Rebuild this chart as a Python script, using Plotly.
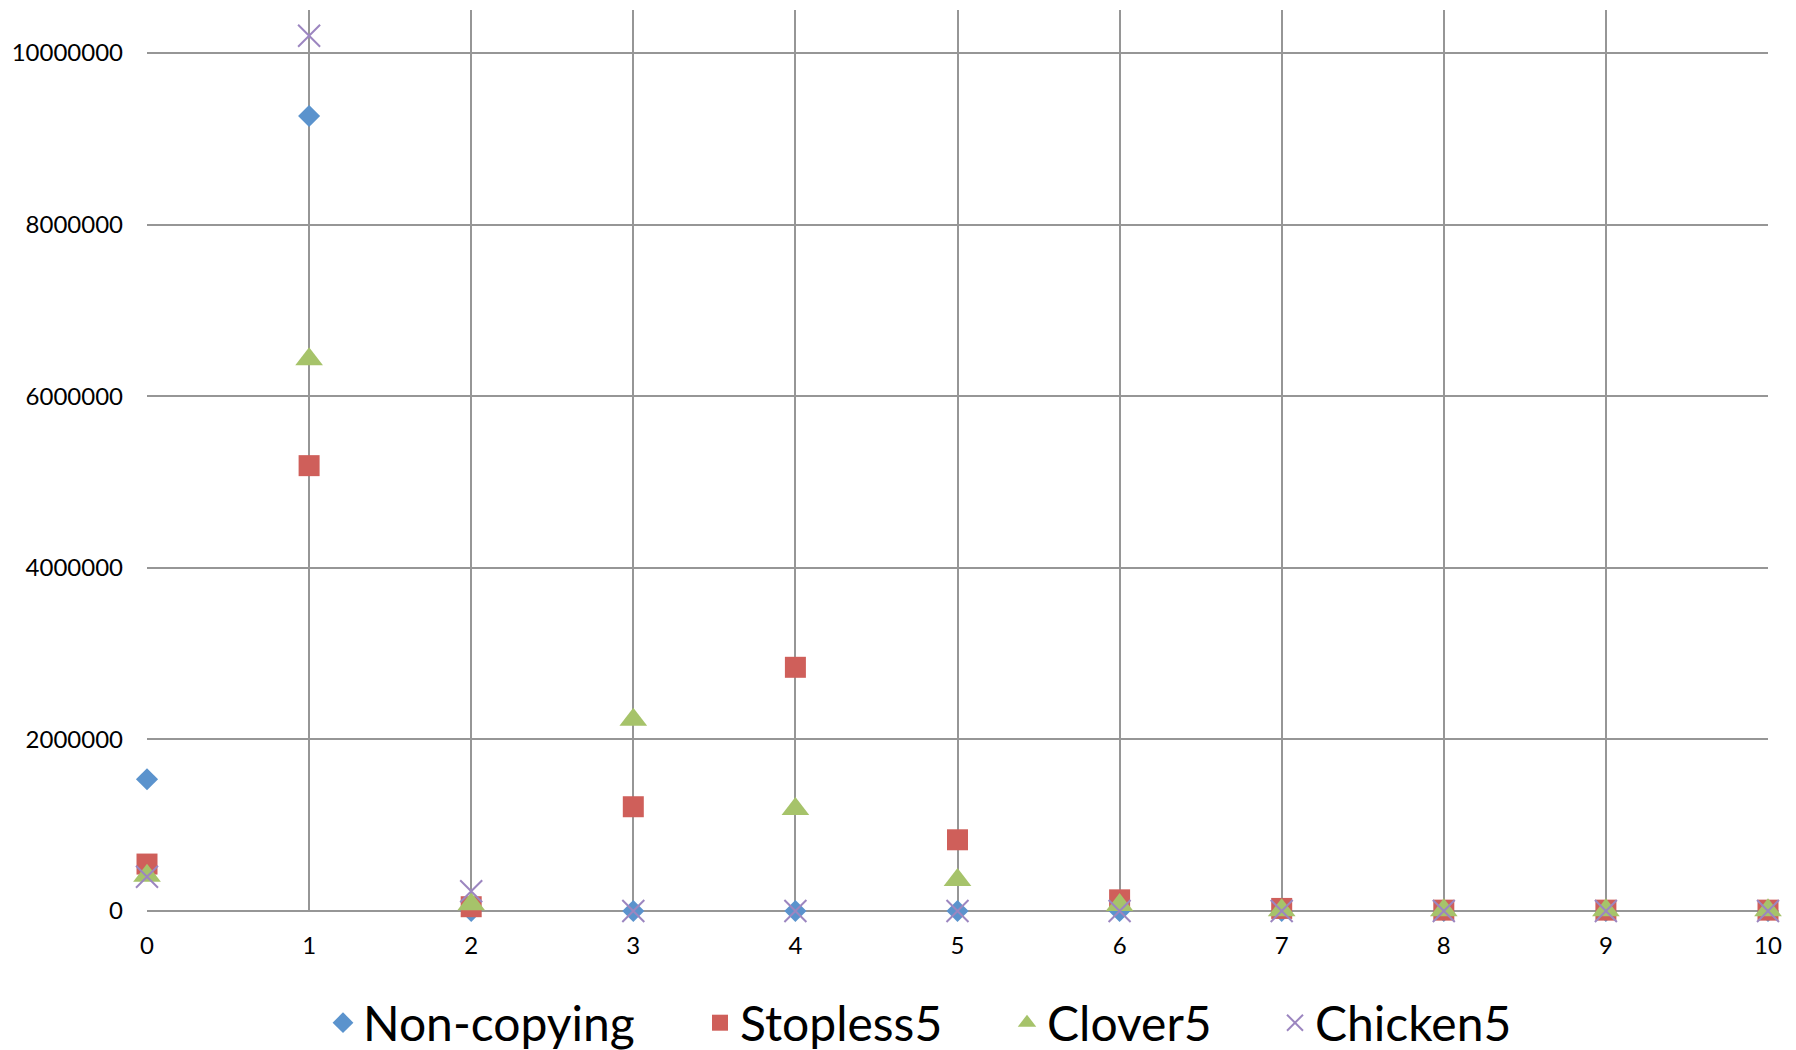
import plotly.graph_objects as go

x_vals = [0, 1, 2, 3, 4, 5, 6, 7, 8, 9, 10]
non_copying = [1535000, 9265000, 0, 0, 0, 0, 0, 0, 0, 0, 0]
stopless5 = [547000, 5190000, 50000, 1215000, 2840000, 830000, 130000, 30000, 10000, 10000, 10000]
clover5 = [410000, 6430000, 80000, 2230000, 1190000, 360000, 70000, 10000, 10000, 10000, 10000]
chicken5 = [400000, 10200000, 230000, 0, 0, 0, 0, 0, 0, 0, 0]
y_ticks = [0, 2000000, 4000000, 6000000, 8000000, 10000000]

FONT = "Lato"
W, H = 1788, 1042  # page body has an 8px default margin

fig = go.Figure()
fig.add_trace(go.Scatter(x=x_vals, y=non_copying, mode="markers", name="Non-copying",
                         legend="legend",
                         marker=dict(symbol="diamond", size=17, color="#5B93CD")))
fig.add_trace(go.Scatter(x=x_vals, y=stopless5, mode="markers", name="Stopless5",
                         legend="legend2",
                         marker=dict(symbol="square", size=21, color="#CF5F5A")))
fig.add_trace(go.Scatter(x=x_vals, y=clover5, mode="markers", name="Clover5",
                         legend="legend3",
                         marker=dict(symbol="triangle-up", size=24, color="#A6C36A")))
fig.add_trace(go.Scatter(x=x_vals, y=chicken5, mode="markers", name="Chicken5",
                         legend="legend4",
                         marker=dict(symbol="x-thin", size=22, color="#9C86C0",
                                     line=dict(width=2, color="#9C86C0"))))

text_starts = [363, 740, 1047, 1315]


def leg(xs):
    return dict(orientation="h", xref="container", x=(xs - 48) / W, xanchor="left",
                yref="container", y=1 - (1023 - 8) / H, yanchor="middle",
                font=dict(size=48, family=FONT), itemsizing="trace",
                bgcolor="rgba(0,0,0,0)")


fig.update_layout(
    width=W, height=H,
    paper_bgcolor="white", plot_bgcolor="white",
    margin=dict(l=139, r=28, t=2, b=139),
    font=dict(family=FONT, color="black"),
    showlegend=True,
    legend=leg(text_starts[0]),
    legend2=leg(text_starts[1]),
    legend3=leg(text_starts[2]),
    legend4=leg(text_starts[3]),
)
fig.update_xaxes(range=[0, 10], tickvals=x_vals, ticktext=[str(v) for v in x_vals],
                 showgrid=True, gridcolor="#969696", gridwidth=1.5,
                 zeroline=False, showline=False, ticks="",
                 tickfont=dict(size=24, family=FONT), ticklabelstandoff=18)
fig.update_yaxes(range=[0, 10500000], tickvals=y_ticks, ticktext=[str(v) for v in y_ticks],
                 showgrid=True, gridcolor="#969696", gridwidth=1.5,
                 zeroline=True, zerolinecolor="#969696", zerolinewidth=1.5,
                 showline=False, ticks="",
                 tickfont=dict(size=24, family=FONT), ticklabelstandoff=23)
for t in fig.data:
    t.cliponaxis = False

fig.write_html("out.html")
